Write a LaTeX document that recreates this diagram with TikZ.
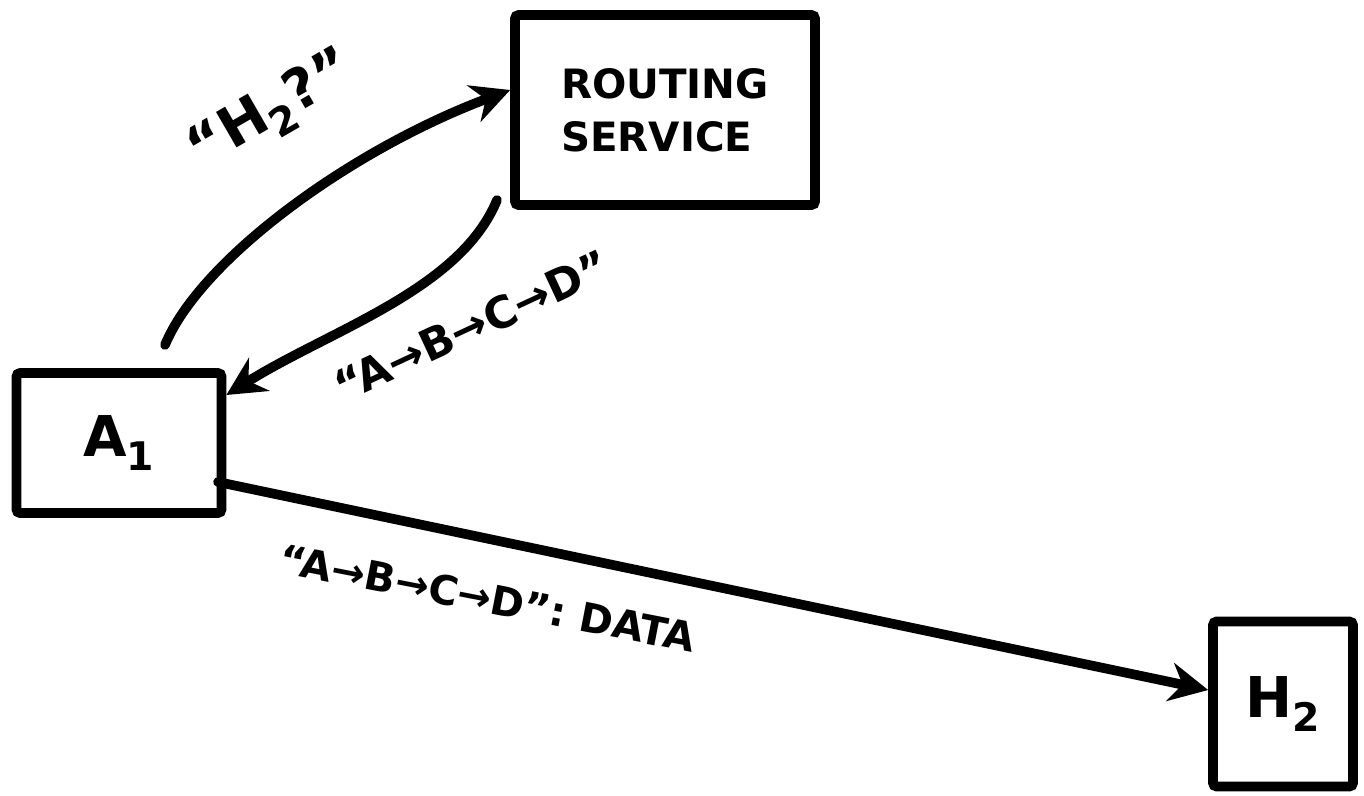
\documentclass[tikz,border=0pt]{standalone}
\usepackage{fontspec}
\setmainfont{DejaVu Sans}
\usetikzlibrary{arrows.meta}
\begin{document}
\begin{tikzpicture}[x=0.02cm,y=-0.02cm,
  box/.style={draw=black,line width=5.5pt,rounded corners=2pt,inner sep=0pt,font=\bfseries},
  conn/.style={draw=black,line width=5.5pt,line cap=round,-{Stealth[length=22pt,width=22pt]}},
  lbl/.style={inner sep=1pt}]
\useasboundingbox (0,0) rectangle (1364,795);
\node[box,minimum width=300*0.02cm,minimum height=190*0.02cm,align=left,font=\bfseries\fontsize{23}{30}\selectfont] (rs) at (665,110) {ROUTING\\SERVICE};
\node[box,minimum width=205*0.02cm,minimum height=140*0.02cm,font=\bfseries\fontsize{32}{36}\selectfont] (a1) at (119,443) {A\textsubscript{1}};
\node[box,minimum width=140*0.02cm,minimum height=165*0.02cm,font=\bfseries\fontsize{32}{36}\selectfont] (h2) at (1283,704) {H\textsubscript{2}};
\coordinate (q1) at (165,345);
\coordinate (q2) at (497,200);
\coordinate (d1) at (218,482);
\draw[conn] (q1) .. controls (200,260) and (350,150) .. (rs.west |- 0,90);
\draw[conn] (q2) .. controls (460,290) and (330,330) .. (a1.north east |- 0,395);
\draw[conn] (d1) -- (h2.west |- 0,690);
\node[lbl,rotate=30,font=\bfseries\fontsize{32}{36}\selectfont] (lq) at (272,112) {“H\textsubscript{2}?”};
\node[lbl,rotate=25,font=\bfseries\fontsize{25}{30}\selectfont] (lr) at (472,326) {“A→B→C→D”};
\node[lbl,rotate=-11,font=\bfseries\fontsize{23}{28}\selectfont] (ld) at (488,598) {“A→B→C→D”: DATA};
\end{tikzpicture}
\end{document}
